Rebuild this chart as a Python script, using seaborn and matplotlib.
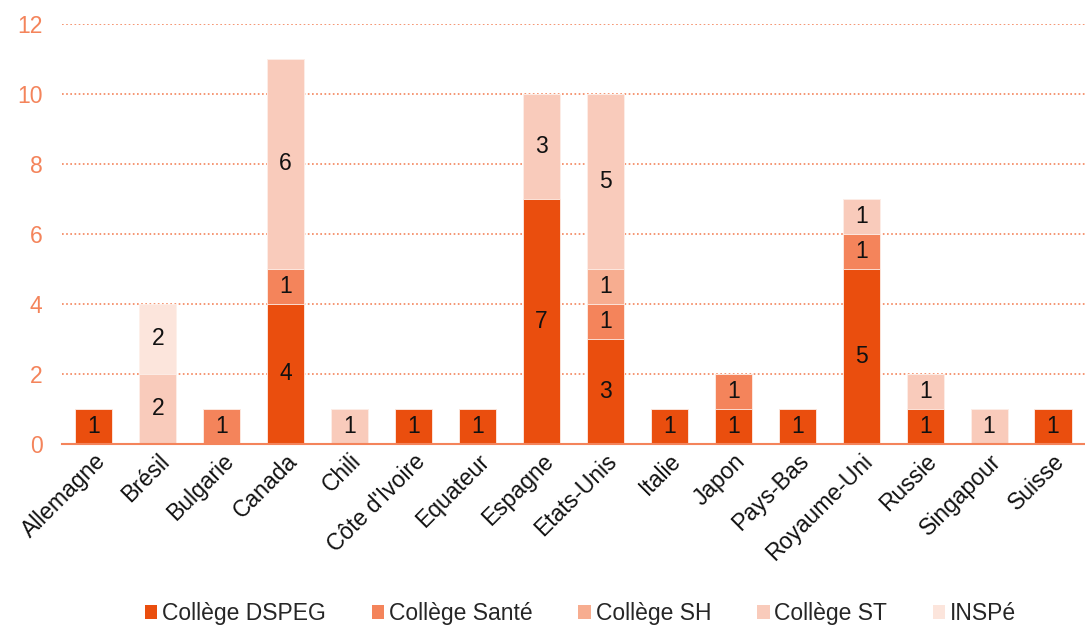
import numpy as np
import pandas as pd
import matplotlib
matplotlib.use("Agg")
import matplotlib.pyplot as plt
import seaborn as sns
from matplotlib.patches import Patch

sns.set_theme(style="white")
plt.rcParams['font.family'] = ['Liberation Sans', 'DejaVu Sans']

pays = ['Allemagne', 'Brésil', 'Bulgarie', 'Canada', 'Chili', "Côte d'Ivoire",
        'Equateur', 'Espagne', 'Etats-Unis', 'Italie', 'Japon', 'Pays-Bas',
        'Royaume-Uni', 'Russie', 'Singapour', 'Suisse']
series = ['Collège DSPEG', 'Collège Santé', 'Collège SH', 'Collège ST', 'INSPé']
dspeg = [1, 0, 0, 4, 0, 1, 1, 7, 3, 1, 1, 1, 5, 1, 0, 1]
sante = [0, 0, 1, 1, 0, 0, 0, 0, 1, 0, 1, 0, 1, 0, 0, 0]
sh = [0, 0, 0, 0, 0, 0, 0, 0, 1, 0, 0, 0, 0, 0, 0, 0]
st = [0, 2, 0, 6, 1, 0, 0, 3, 5, 0, 0, 0, 1, 1, 1, 0]
inspe = [0, 2, 0, 0, 0, 0, 0, 0, 0, 0, 0, 0, 0, 0, 0, 0]
couleurs = ['#EA4E0E', '#F4845B', '#F7AD90', '#F9CBBB', '#FCE5DC']
axe_col = '#F4845B'

df = pd.DataFrame({'pays': pays, series[0]: dspeg, series[1]: sante,
                   series[2]: sh, series[3]: st, series[4]: inspe})
cum = df[series].cumsum(axis=1)

fig = plt.figure(figsize=(10.85, 6.28), dpi=100)
ax = fig.add_axes([0.057, 0.293, 0.943, 0.669])

# barres empilees : on dessine les cumuls, du plus haut au plus bas
for s, c in zip(series[::-1], couleurs[::-1]):
    sns.barplot(x=df['pays'], y=cum[s], order=pays, color=c, width=0.58,
                edgecolor='#FDF0EA', linewidth=0.6, ax=ax, saturation=1)

for i in range(len(pays)):
    bas = 0
    for s in series:
        v = df.loc[i, s]
        if v > 0:
            ax.text(i, bas + v / 2, str(v), ha='center', va='center',
                    fontsize=16.5, color='#111111')
        bas += v

ax.set_ylim(0, 12)
ax.set_xlim(-0.5, len(pays) - 0.5)
ax.set_yticks(range(0, 13, 2))
ax.yaxis.grid(True, linestyle=(0, (1, 1.5)), color=axe_col, linewidth=1.2)
ax.set_axisbelow(True)
for sp in ['top', 'right', 'left']:
    ax.spines[sp].set_visible(False)
ax.spines['bottom'].set_color(axe_col)
ax.spines['bottom'].set_linewidth(1.5)
ax.set_xlabel('')
ax.set_ylabel('')
ax.tick_params(axis='y', colors=axe_col, labelsize=16.5, length=0, pad=14)
ax.tick_params(axis='x', which='major', length=0, labelsize=16.5, pad=4)
ax.set_xticks(np.arange(-0.5, len(pays), 1), minor=True)
ax.tick_params(axis='x', which='minor', length=6, color=axe_col, width=1.2,
               direction='out')
plt.setp(ax.get_xticklabels(), rotation=45, ha='right', rotation_mode='anchor',
         color='#111111')

handles = [Patch(facecolor=c, edgecolor='none', label=s)
           for s, c in zip(series, couleurs)]
fig.legend(handles=handles, loc='lower center', ncol=5, frameon=False,
           bbox_to_anchor=(0.535, -0.028), fontsize=16.5, handlelength=0.55,
           handleheight=0.55, handletextpad=0.2, columnspacing=2.0)

fig.savefig('out.png', dpi=100)
